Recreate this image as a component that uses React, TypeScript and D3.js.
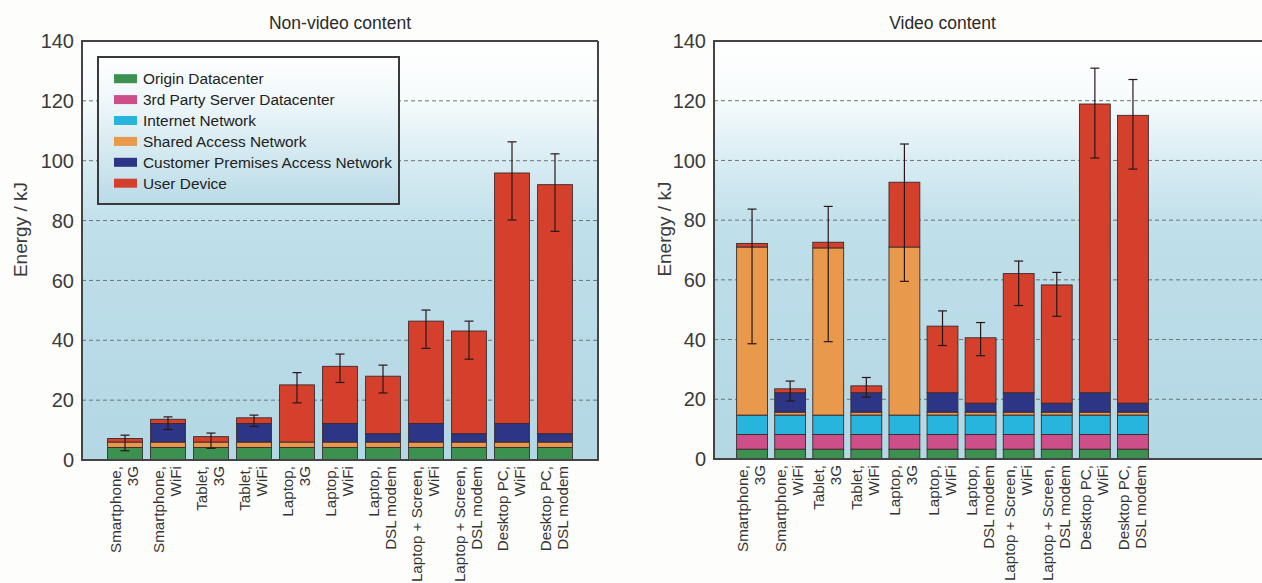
import React, { useEffect, useRef } from 'react';
import * as d3 from 'd3';

const categories = [
  ['Smartphone,', '3G'], ['Smartphone,', 'WiFi'], ['Tablet,', '3G'], ['Tablet,', 'WiFi'],
  ['Laptop,', '3G'], ['Laptop,', 'WiFi'], ['Laptop,', 'DSL modem'],
  ['Laptop + Screen,', 'WiFi'], ['Laptop + Screen,', 'DSL modem'],
  ['Desktop PC,', 'WiFi'], ['Desktop PC,', 'DSL modem'],
];
const seriesNames = ['Origin Datacenter', '3rd Party Server Datacenter', 'Internet Network', 'Shared Access Network', 'Customer Premises Access Network', 'User Device'];
const seriesColors = ['#3d9150', '#cc4f8a', '#27b4dd', '#e8994c', '#2c3586', '#d4402c'];
const yTicks = [0, 20, 40, 60, 80, 100, 120, 140];

// non-video content
const nvOrigin = [4.2, 4.2, 4.2, 4.2, 4.2, 4.2, 4.2, 4.2, 4.2, 4.2, 4.2];
const nvThirdParty = [0, 0, 0, 0, 0, 0, 0, 0, 0, 0, 0];
const nvInternet = [0, 0, 0, 0, 0, 0, 0, 0, 0, 0, 0];
const nvShared = [1.8, 1.8, 1.8, 1.8, 1.8, 1.8, 1.8, 1.8, 1.8, 1.8, 1.8];
const nvPremises = [0, 6.2, 0, 6.2, 0, 6.2, 2.8, 6.2, 2.8, 6.2, 2.8];
const nvDevice = [1.2, 1.4, 1.8, 1.9, 19.1, 19.1, 19.2, 34.2, 34.3, 83.7, 83.2];
const nvErrLow = [3.1, 10.2, 3.9, 11.2, 19.1, 25.9, 22.4, 37.3, 33.7, 80.2, 76.4];
const nvErrHigh = [8.3, 14.4, 9.0, 15.0, 29.2, 35.4, 31.7, 50.1, 46.4, 106.3, 102.3];

// video content
const vOrigin = [3.3, 3.3, 3.3, 3.3, 3.3, 3.3, 3.3, 3.3, 3.3, 3.3, 3.3];
const vThirdParty = [4.9, 4.9, 4.9, 4.9, 4.9, 4.9, 4.9, 4.9, 4.9, 4.9, 4.9];
const vInternet = [6.5, 6.5, 6.5, 6.5, 6.5, 6.5, 6.5, 6.5, 6.5, 6.5, 6.5];
const vShared = [56.3, 1.0, 56.0, 1.0, 56.3, 1.0, 1.0, 1.0, 1.0, 1.0, 1.0];
const vPremises = [0, 6.5, 0, 6.5, 0, 6.5, 3.0, 6.5, 3.0, 6.5, 3.0];
const vDevice = [1.2, 1.3, 1.9, 2.3, 21.7, 22.3, 21.9, 39.9, 39.6, 96.7, 96.4];
const vErrLow = [38.6, 19.4, 39.3, 20.7, 59.5, 38.0, 34.6, 51.4, 47.8, 100.8, 97.1];
const vErrHigh = [83.7, 26.1, 84.6, 27.3, 105.5, 49.6, 45.7, 66.3, 62.5, 130.9, 127.1];

const FONT = '"Liberation Sans", Arial, sans-serif';

function drawPanel(svg, opt) {
  const { id, title, frame, bandRange, yRange, series, errLow, errHigh, legend, labelX } = opt;
  const keys = categories.map(c => c.join(' '));
  const rows = keys.map((k, i) => {
    const r = { key: k };
    series.forEach((s, j) => { r[seriesNames[j]] = s[i]; });
    return r;
  });
  const x = d3.scaleBand().domain(keys).range(bandRange).paddingInner(0.19).paddingOuter(0.095);
  const y = d3.scaleLinear().domain([0, 140]).range(yRange);
  const g = svg.append('g');

  const grad = svg.select('defs').append('linearGradient')
    .attr('id', id).attr('gradientUnits', 'userSpaceOnUse')
    .attr('x1', 0).attr('x2', 0).attr('y1', y(140)).attr('y2', y(0));
  [[0, '#ffffff'], [0.14, '#f6fbfc'], [0.3, '#d6ebf2'], [0.45, '#bfdfea'], [1, '#b3d7e4']].forEach(([o, c]) =>
    grad.append('stop').attr('offset', o).attr('stop-color', c));

  g.append('rect').attr('x', frame[0]).attr('y', y(140)).attr('width', frame[1] - frame[0])
    .attr('height', y(0) - y(140)).attr('fill', `url(#${id})`);

  // grid
  g.selectAll('.grid').data(yTicks.filter(t => t > 0 && t < 140)).enter().append('line')
    .attr('x1', frame[0]).attr('x2', frame[1]).attr('y1', d => y(d)).attr('y2', d => y(d))
    .attr('stroke', '#6a7478').attr('stroke-width', 1).attr('stroke-dasharray', '4,3');

  // legend
  if (legend) {
    const lx = 98, ly = 57, lw = 301, lh = 147;
    const lg = svg.select('defs').append('linearGradient')
      .attr('id', id + 'leg').attr('x1', 0).attr('x2', 0).attr('y1', 0).attr('y2', 1);
    [[0, '#ffffff'], [0.3, '#eef7fa'], [1, '#b9dbe7']].forEach(([o, c]) =>
      lg.append('stop').attr('offset', o).attr('stop-color', c));
    g.append('rect').attr('x', lx).attr('y', ly).attr('width', lw).attr('height', lh)
      .attr('fill', `url(#${id}leg)`).attr('stroke', '#3a3a3a').attr('stroke-width', 2);
    const item = g.selectAll('.leg').data(seriesNames).enter().append('g')
      .attr('transform', (d, i) => `translate(${lx + 16},${ly + 21.7 + i * 20.9})`);
    item.append('rect').attr('x', 0).attr('y', -4.5).attr('width', 23).attr('height', 9)
      .attr('fill', (d, i) => seriesColors[i]);
    item.append('text').attr('x', 29).attr('y', 0).attr('dy', '0.35em')
      .attr('font-family', FONT).attr('font-size', 15.4).attr('fill', '#222').text(d => d);
  }

  // bars
  const stacked = d3.stack().keys(seriesNames)(rows);
  stacked.forEach((layer, j) => {
    g.selectAll(null).data(layer.filter(d => d[1] - d[0] > 0)).enter().append('rect')
      .attr('x', d => x(d.data.key))
      .attr('y', d => y(d[1]))
      .attr('width', x.bandwidth())
      .attr('height', d => y(d[0]) - y(d[1]))
      .attr('fill', seriesColors[j])
      .attr('stroke', '#3b2a2a').attr('stroke-width', 0.9);
  });

  // error bars
  const eb = g.selectAll('.err').data(keys).enter().append('g');
  const cx = d => x(d) + x.bandwidth() / 2;
  eb.append('line').attr('x1', cx).attr('x2', cx)
    .attr('y1', (d, i) => y(errLow[i])).attr('y2', (d, i) => y(errHigh[i]));
  eb.append('line').attr('x1', d => cx(d) - 4.5).attr('x2', d => cx(d) + 4.5)
    .attr('y1', (d, i) => y(errLow[i])).attr('y2', (d, i) => y(errLow[i]));
  eb.append('line').attr('x1', d => cx(d) - 4.5).attr('x2', d => cx(d) + 4.5)
    .attr('y1', (d, i) => y(errHigh[i])).attr('y2', (d, i) => y(errHigh[i]));
  eb.selectAll('line').attr('stroke', '#2a1616').attr('stroke-width', 1.2);

  // frame
  g.append('path')
    .attr('d', `M${frame[1]},${y(140)}H${frame[0]}V${y(0)}H${frame[1]}` + (opt.rightBorder ? `V${y(140)}` : ''))
    .attr('fill', 'none').attr('stroke', '#444').attr('stroke-width', 2);

  // y tick labels
  g.selectAll('.yt').data(yTicks).enter().append('text')
    .attr('x', frame[0] - 8).attr('y', d => y(d)).attr('dy', '0.36em')
    .attr('text-anchor', 'end').attr('font-family', FONT).attr('font-size', 20).attr('fill', '#3a3a3a')
    .text(d => d);

  g.append('text')
    .attr('transform', `translate(${labelX},${y(77)}) rotate(-90)`)
    .attr('text-anchor', 'middle').attr('dy', '0.35em')
    .attr('font-family', FONT).attr('font-size', 19).attr('fill', '#3a3a3a').text('Energy / kJ');

  // title
  g.append('text').attr('x', (bandRange[0] + bandRange[1]) / 2).attr('y', 29)
    .attr('text-anchor', 'middle').attr('font-family', FONT).attr('font-size', 17.5).attr('fill', '#2a2a2a')
    .text(title);

  // x labels
  const xl = g.selectAll('.xl').data(categories).enter().append('g')
    .attr('transform', (d, i) => `translate(${cx(keys[i])},${y(0) + 6})`);
  [0, 1].forEach(k => {
    xl.append('text').attr('transform', `translate(${k === 0 ? -4 : 13},0) rotate(-90)`)
      .attr('text-anchor', 'end').attr('font-family', FONT).attr('font-size', 15.2).attr('fill', '#333')
      .text(d => d[k]);
  });
}

export default function App() {
  const ref = useRef(null);

  useEffect(() => {
    const svg = d3.select(ref.current);
    svg.selectAll('*').remove();
    svg.append('defs');
    drawPanel(svg, {
      id: 'bgL', title: 'Non-video content', frame: [82, 598], bandRange: [103.5, 576.5], yRange: [460, 41],
      series: [nvOrigin, nvThirdParty, nvInternet, nvShared, nvPremises, nvDevice],
      errLow: nvErrLow, errHigh: nvErrHigh, legend: true, rightBorder: true, labelX: 20,
    });
    drawPanel(svg, {
      id: 'bgR', title: 'Video content', frame: [714, 1275], bandRange: [733, 1152], yRange: [459, 41],
      series: [vOrigin, vThirdParty, vInternet, vShared, vPremises, vDevice],
      errLow: vErrLow, errHigh: vErrHigh, legend: false, rightBorder: false, labelX: 664,
    });
  }, []);

  return (
    <svg ref={ref} width={1262} height={583}
      style={{ position: 'absolute', left: 0, top: 0, background: '#fdfdfc' }} />
  );
}
